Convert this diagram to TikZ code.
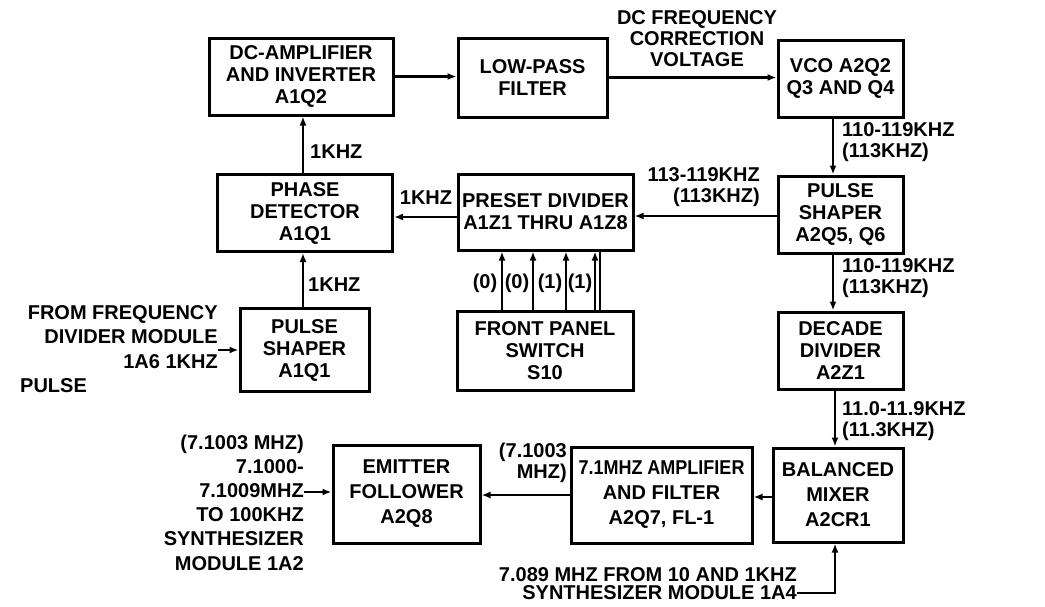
\documentclass[tikz,border=0pt]{standalone}
\usepackage{fontspec}
\usepackage{graphicx}
\setmainfont{Liberation Sans}
\usetikzlibrary{arrows.meta}
\tikzset{
  blk/.style={draw, line width=3pt, align=center, inner sep=0pt,
    font=\fontsize{20}{22}\selectfont\bfseries},
  blkb/.style={blk, font=\fontsize{20}{25}\selectfont\bfseries},
  lbl/.style={font=\fontsize{20}{21}\selectfont\bfseries, inner sep=0pt, align=left},
  con/.style={line width=2.6pt},
  arr/.style={con, -{Latex[length=9pt,width=7pt]}},
}
\begin{document}
\begin{tikzpicture}[x=1pt,y=-1pt]
\useasboundingbox (0,0) rectangle (1045,606);
% blocks
\node[blk, minimum width=184pt, minimum height=77pt] (amp) at (301,76.5) {DC-AMPLIFIER\\AND INVERTER\\A1Q2};
\node[blk, minimum width=149pt, minimum height=79pt] (lpf) at (532.5,77.5) {LOW-PASS\\FILTER};
\node[blk, minimum width=125pt, minimum height=77pt] (vco) at (840.5,78.5) {VCO A2Q2\\Q3 AND Q4};
\node[blk, minimum width=175pt, minimum height=77pt] (phd) at (305,213) {PHASE\\DETECTOR\\A1Q1};
\node[blk, minimum width=175pt, minimum height=76pt] (pre) at (545.5,212) {PRESET DIVIDER\\A1Z1 THRU A1Z8};
\node[blk, minimum width=125pt, minimum height=77pt] (psh2) at (840.5,214.5) {PULSE\\SHAPER\\A2Q5, Q6};
\node[blk, minimum width=129pt, minimum height=83pt] (psh1) at (304.5,350) {PULSE\\SHAPER\\A1Q1};
\node[blk, minimum width=176pt, minimum height=79pt] (fps) at (545,350.5) {FRONT PANEL\\SWITCH\\S10};
\node[blk, minimum width=125pt, minimum height=77pt] (dec) at (840.5,350.5) {DECADE\\DIVIDER\\A2Z1};
\node[blkb, minimum width=130pt, minimum height=94pt] (mix) at (838,495) {BALANCED\\MIXER\\A2CR1};
\node[blkb, minimum width=181pt, minimum height=96pt] (amp7) at (661.5,495) {\scalebox{0.9}[1]{7.1MHZ AMPLIFIER}\\AND FILTER\\A2Q7, FL-1};
\node[blkb, minimum width=147pt, minimum height=98pt] (ef) at (406.5,494) {EMITTER\\FOLLOWER\\A2Q8};
% labels
\node[lbl, align=center] (dcf) at (697,39) {DC FREQUENCY\\CORRECTION\\VOLTAGE};
\node[lbl, anchor=west] (k1) at (310,152) {1KHZ};
\node[lbl, anchor=center] (k2) at (426,198) {1KHZ};
\node[lbl, anchor=west] (k3) at (308,285) {1KHZ};
\node[lbl, anchor=west] (f1) at (842,142) {110-119KHZ\\(113KHZ)};
\node[lbl, anchor=east, align=right] (f2) at (760,187) {113-119KHZ\\(113KHZ)};
\node[lbl, anchor=west] (f3) at (842,278) {110-119KHZ\\(113KHZ)};
\node[lbl, anchor=west] (f4) at (842,421) {11.0-11.9KHZ\\(11.3KHZ)};
\node[lbl, anchor=east, align=right] (f5) at (567,463) {(7.1003\\MHZ)};
\node[lbl] (s1) at (485,283) {(0)};
\node[lbl] (s2) at (517,283) {(0)};
\node[lbl] (s3) at (550,283) {(1)};
\node[lbl] (s4) at (580,283) {(1)};
\node[lbl, anchor=east, align=right, font=\fontsize{20}{24.5}\selectfont\bfseries] (fromfd) at (218,337) {FROM FREQUENCY\\DIVIDER MODULE\\1A6 1KHZ};
\node[lbl, anchor=west] (pulse) at (20,386) {PULSE};
\node[lbl, anchor=east, align=right, font=\fontsize{20}{24.2}\selectfont\bfseries] (out) at (304,502.5) {(7.1003 MHZ)\\7.1000-\\7.1009MHZ\\TO 100KHZ\\SYNTHESIZER\\MODULE 1A2};
\node[lbl, anchor=east, align=right, font=\fontsize{20}{18}\selectfont\bfseries] (src7) at (797,584) {7.089 MHZ FROM 10 AND 1KHZ\\SYNTHESIZER MODULE 1A4};
% coordinates
\coordinate (xa) at (833,0);
\coordinate (xb) at (835,0);
\coordinate (xc) at (303,0);
\coordinate (c7) at (835,593);
% connectors
\draw[arr] (amp.east) -- (lpf.west |- amp.east);
\draw[arr] (lpf.east) -- (vco.west |- lpf.east);
\draw[arr] (vco.south -| xa) -- (psh2.north -| xa);
\draw[arr] (psh2.west |- 0,216) -- (pre.east |- 0,216);
\draw[arr] (pre.west |- 0,217) -- (phd.east |- 0,217);
\draw[arr] (phd.north -| xc) -- (amp.south -| xc);
\draw[arr] (psh1.north -| xc) -- (phd.south -| xc);
\draw[arr] (fps.north -| 502,0) -- (pre.south -| 502,0);
\draw[arr] (fps.north -| 533,0) -- (pre.south -| 533,0);
\draw[arr] (fps.north -| 566,0) -- (pre.south -| 566,0);
\draw[arr] (fps.north -| 595,0) -- (pre.south -| 595,0);
\draw[con, line width=2pt] (fps.north -| 599.5,0) -- (pre.south -| 599.5,0);
\draw[arr] (psh2.south -| xa) -- (dec.north -| xa);
\draw[arr] (dec.south -| xb) -- (mix.north -| xb);
\draw[arr] (mix.west |- 0,497) -- (amp7.east |- 0,497);
\draw[arr] (amp7.west |- 0,495) -- (ef.east |- 0,495);
\draw[arr] (out.east |- 0,492) -- (ef.west |- 0,492);
\draw[arr] (fromfd.east |- 0,350) -- (psh1.west |- 0,350);
\draw[arr] (src7.east |- c7) -- (c7) -- (mix.south -| c7);
\end{tikzpicture}
\end{document}
